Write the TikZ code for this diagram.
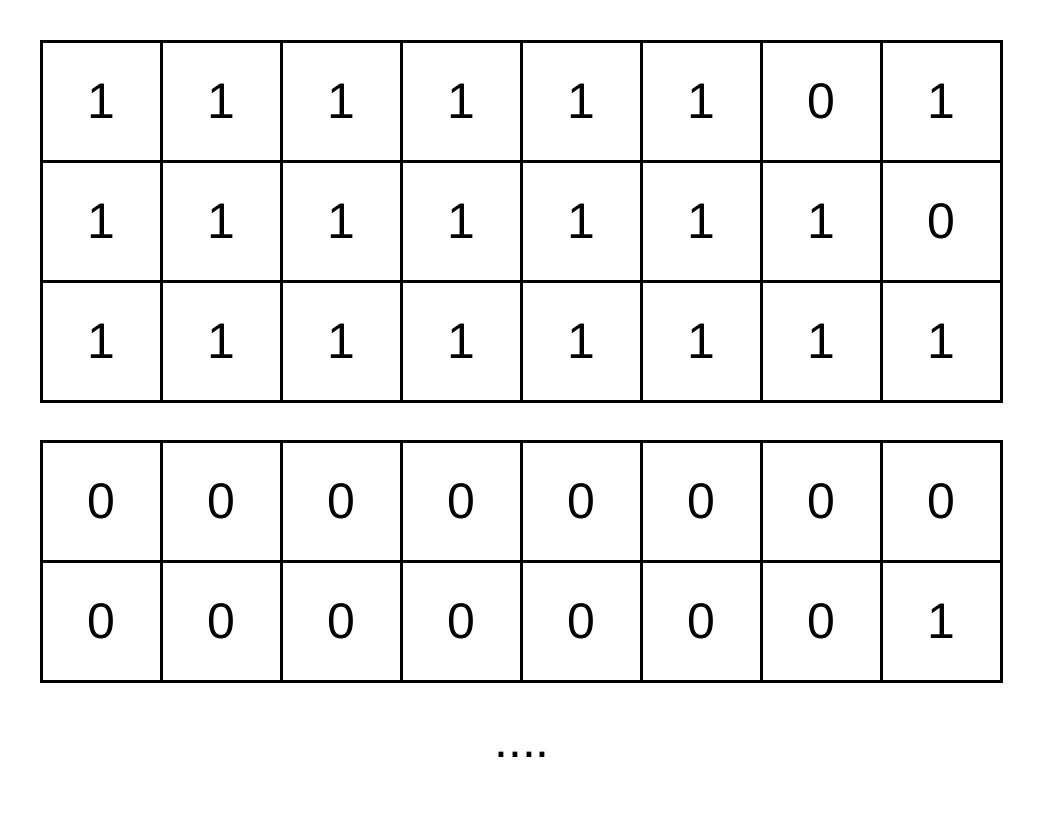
\documentclass[tikz,border=0pt]{standalone}
\usepackage{fontspec}
\setmainfont{Liberation Sans}
\tikzset{
  cell/.style={draw=black, line width=3pt, minimum width=120pt, minimum height=120pt, inner sep=0pt, font=\fontsize{50}{60}\selectfont},
  dots/.style={inner sep=0pt, font=\fontsize{50}{60}\selectfont}
}
\begin{document}
\begin{tikzpicture}[x=1pt,y=-1pt]
\useasboundingbox (0,0) rectangle (1044,812);
% top grid
\foreach \r/\row in {1/{1,1,1,1,1,1,0,1},2/{1,1,1,1,1,1,1,0},3/{1,1,1,1,1,1,1,1}}{
  \foreach \v [count=\c] in \row {
    \node[cell] (a\r\c) at ({41.5+120*(\c-0.5)},{41.5+120*(\r-0.5)}) {\v};
  }
}
% bottom grid
\foreach \r/\row in {1/{0,0,0,0,0,0,0,0},2/{0,0,0,0,0,0,0,1}}{
  \foreach \v [count=\c] in \row {
    \node[cell] (b\r\c) at ({41.5+120*(\c-0.5)},{441.5+120*(\r-0.5)}) {\v};
  }
}
\node[dots] (more) at (522,755) {....};
\end{tikzpicture}
\end{document}
